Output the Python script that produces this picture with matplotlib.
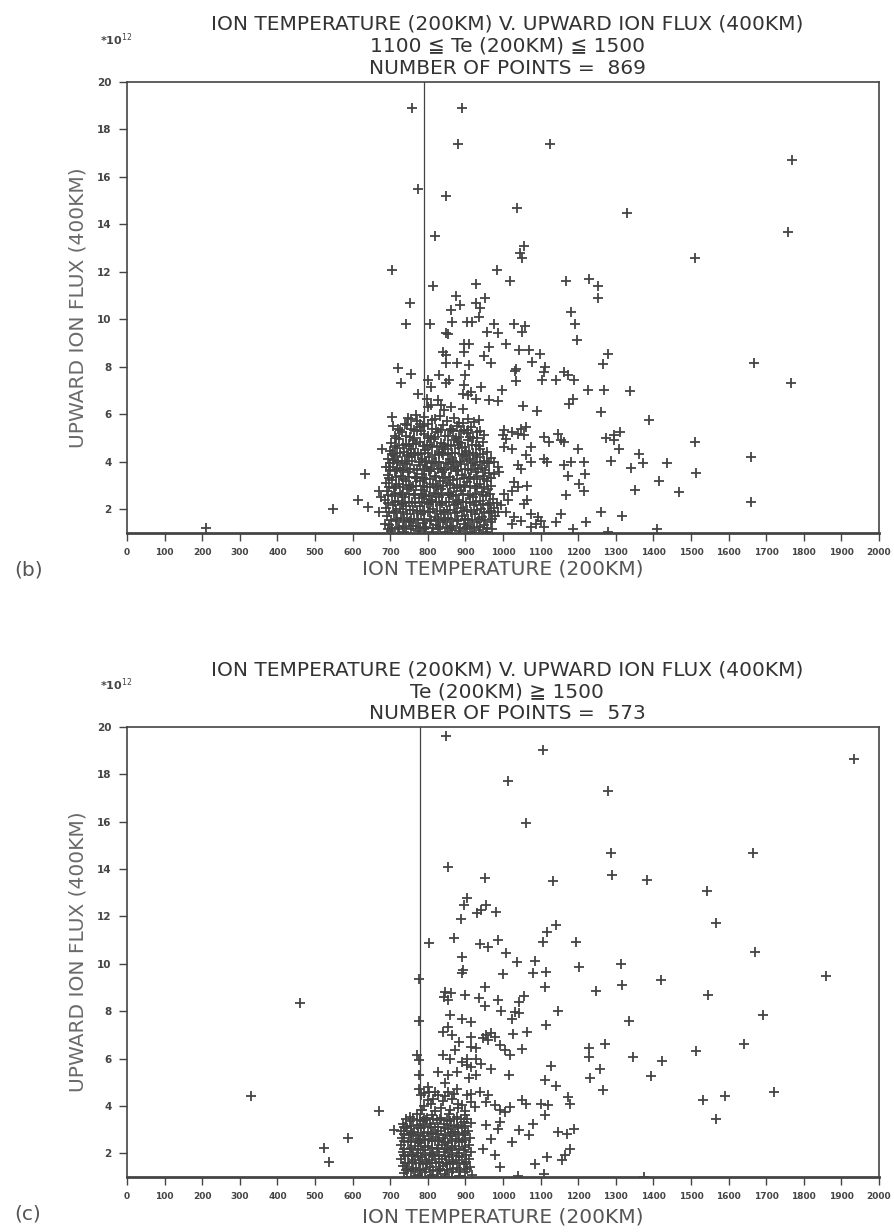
import numpy as np
import matplotlib
matplotlib.use("Agg")
import matplotlib.pyplot as plt

# ---- panel (b): 1100 <= Te <= 1500, scattered points ----
b_upper = [
    (758, 18.9), (890, 18.9), (880, 17.4), (1126, 17.4), (774, 15.5), (848, 15.2),
    (1768, 16.7), (1038, 14.7), (1330, 14.5), (818, 13.5), (1758, 13.7), (1056, 13.1),
    (1045, 12.8), (1051, 12.6), (705, 12.1), (985, 12.1), (1511, 12.6),
    (814, 11.4), (927, 11.5), (1019, 11.6), (1168, 11.6), (1228, 11.7), (1252, 11.4),
    (1252, 10.9), (752, 10.7), (874, 11.0), (886, 10.6), (953, 10.9), (927, 10.7),
    (938, 10.5), (863, 10.4), (1182, 10.3), (1191, 9.8), (741, 9.8), (805, 9.8),
    (865, 9.9), (903, 9.9), (917, 9.9), (936, 10.1), (976, 9.8), (1028, 9.8), (1059, 9.73),
]
b_mid = [
    (848, 9.43), (855, 9.38), (986, 9.41), (957, 9.48), (1050, 9.48), (1196, 9.13),
    (897, 8.98), (910, 8.96), (895, 8.63), (1008, 8.98), (962, 8.82), (840, 8.63),
    (848, 8.49), (1043, 8.7), (1070, 8.7), (1099, 8.53), (950, 8.45), (968, 8.17),
    (878, 8.17), (910, 8.07), (848, 8.17), (1077, 8.21), (1034, 7.93), (1032, 7.83),
    (1112, 8.0), (1109, 7.79), (1163, 7.79), (1172, 7.65), (1189, 7.44), (1103, 7.46),
    (1140, 7.44), (1034, 7.41), (722, 7.97), (755, 7.69), (729, 7.3), (800, 7.44),
    (809, 7.16), (831, 7.65), (857, 7.44), (848, 7.3), (899, 7.65), (897, 7.23),
    (915, 6.94), (893, 6.87), (906, 6.8), (941, 7.15), (997, 7.01), (928, 6.66),
    (963, 6.59), (986, 6.56), (1225, 7.01), (1185, 6.66), (1176, 6.45), (1052, 6.34),
    (1090, 6.14), (775, 6.84), (798, 6.63), (800, 6.31), (809, 6.38), (826, 6.59),
    (835, 6.38), (862, 6.31), (893, 6.24), (844, 6.17), (705, 5.89), (708, 5.49),
    (755, 5.82), (769, 5.96), (740, 5.61), (778, 5.61), (906, 5.82), (924, 5.68),
    (937, 5.75), (897, 5.32), (932, 5.25), (950, 5.11), (1003, 5.32), (1025, 5.25),
    (1048, 5.39), (1061, 5.47), (1039, 5.18), (1055, 5.11), (1008, 4.97), (1109, 5.04),
    (1123, 4.83), (1145, 5.18), (1154, 4.9), (1163, 4.83), (1200, 4.55), (1003, 4.62),
    (1025, 4.55), (999, 5.11), (1074, 4.62), (1061, 4.27), (1074, 3.99), (1039, 3.85),
    (1048, 3.7), (1109, 4.13), (1118, 3.99), (1163, 3.85), (1180, 3.99), (1173, 3.42),
    (1216, 3.99), (1217, 3.5), (1202, 3.07), (1216, 2.79), (1167, 2.58), (977, 3.99),
    (986, 3.78), (977, 3.5), (990, 3.57), (1030, 3.14), (1039, 2.93), (1065, 3.0),
    (1025, 2.79), (1065, 2.37), (1056, 2.23), (1003, 2.65), (1012, 2.37), (995, 2.16),
    (1008, 1.88), (1030, 1.66), (1048, 1.52), (1025, 1.38), (1074, 1.81), (1092, 1.66),
    (1101, 1.52), (1087, 1.38), (1109, 1.24), (1074, 1.24), (1154, 1.81), (1140, 1.45),
    (1187, 1.17), (1220, 1.45), (678, 4.55), (707, 4.34), (711, 4.06), (698, 3.78),
    (634, 3.47), (614, 2.37), (640, 2.09), (547, 2.02), (671, 2.79), (676, 2.51),
    (671, 1.88), (685, 1.38), (693, 1.17), (210, 1.2),
]
b_right = [
    (1279, 8.53), (1266, 8.1), (1668, 8.15), (1765, 7.3), (1268, 7.03), (1339, 6.98),
    (1261, 6.11), (1387, 5.76), (1274, 5.01), (1296, 4.92), (1310, 5.27), (1296, 5.13),
    (1308, 4.52), (1511, 4.82), (1286, 4.03), (1361, 4.31), (1372, 3.93), (1341, 3.75),
    (1436, 3.93), (1659, 4.19), (1513, 3.51), (1414, 3.2), (1351, 2.81), (1467, 2.71),
    (1659, 2.29), (1261, 1.87), (1317, 1.71), (1410, 1.15), (1279, 1.05),
]
# dense core of panel (b), typed row by row from the dark blob
b_core = [
    (748, 5.85), (772, 5.7), (790, 5.9), (812, 5.75), (833, 5.95), (851, 5.7), (869, 5.85), (884, 5.65),
    (722, 5.4), (744, 5.55), (763, 5.35), (786, 5.5), (801, 5.6), (822, 5.4), (840, 5.55), (858, 5.35),
    (877, 5.5), (893, 5.62), (915, 5.45),
    (712, 5.1), (731, 5.25), (752, 5.05), (770, 5.3), (791, 5.15), (808, 5.0), (826, 5.25), (845, 5.1),
    (866, 5.3), (884, 5.05), (903, 5.2), (921, 5.0), (940, 5.28),
    (703, 4.8), (724, 4.95), (741, 4.75), (760, 4.9), (779, 4.85), (797, 4.7), (816, 4.95), (834, 4.8),
    (853, 4.7), (871, 4.92), (889, 4.78), (908, 4.9), (927, 4.72), (948, 4.85),
    (700, 4.45), (718, 4.6), (737, 4.4), (755, 4.55), (774, 4.35), (792, 4.5), (811, 4.62), (829, 4.4),
    (846, 4.55), (864, 4.38), (883, 4.6), (901, 4.45), (920, 4.35), (938, 4.55), (957, 4.42),
    (695, 4.1), (713, 4.25), (731, 4.05), (749, 4.2), (767, 4.3), (785, 4.1), (803, 4.22), (821, 4.0),
    (840, 4.28), (858, 4.12), (876, 4.0), (894, 4.25), (912, 4.1), (931, 4.2), (950, 4.05), (968, 4.18),
    (690, 3.8), (708, 3.95), (726, 3.75), (744, 3.9), (762, 3.7), (780, 3.88), (798, 3.8), (817, 3.95),
    (835, 3.72), (853, 3.9), (871, 3.78), (889, 3.92), (907, 3.7), (925, 3.85), (944, 3.75), (962, 3.93),
    (694, 3.45), (712, 3.6), (730, 3.4), (748, 3.55), (766, 3.35), (784, 3.5), (802, 3.62), (820, 3.42),
    (838, 3.55), (856, 3.38), (874, 3.6), (892, 3.45), (910, 3.35), (928, 3.58), (946, 3.4), (964, 3.52),
    (688, 3.1), (706, 3.25), (724, 3.05), (742, 3.2), (760, 3.0), (778, 3.18), (796, 3.28), (814, 3.05),
    (832, 3.2), (850, 3.1), (868, 3.25), (886, 3.02), (904, 3.15), (922, 3.28), (940, 3.05), (958, 3.2),
    (691, 2.75), (709, 2.9), (727, 2.7), (745, 2.85), (763, 2.65), (781, 2.8), (799, 2.92), (817, 2.7),
    (835, 2.85), (853, 2.68), (871, 2.9), (889, 2.75), (907, 2.62), (925, 2.88), (943, 2.72), (961, 2.85),
    (686, 2.4), (704, 2.55), (722, 2.35), (740, 2.5), (758, 2.3), (776, 2.48), (794, 2.6), (812, 2.38),
    (830, 2.52), (848, 2.32), (866, 2.55), (884, 2.4), (902, 2.3), (920, 2.5), (938, 2.36), (956, 2.55),
    (974, 2.42),
    (689, 2.05), (707, 2.2), (725, 2.0), (743, 2.15), (761, 1.95), (779, 2.12), (797, 2.25), (815, 2.02),
    (833, 2.18), (851, 1.98), (869, 2.2), (887, 2.06), (905, 1.96), (923, 2.16), (941, 2.0), (959, 2.2),
    (977, 2.05),
    (692, 1.7), (710, 1.85), (728, 1.65), (746, 1.8), (764, 1.6), (782, 1.78), (800, 1.9), (818, 1.68),
    (836, 1.82), (854, 1.62), (872, 1.85), (890, 1.72), (908, 1.6), (926, 1.8), (944, 1.66), (962, 1.84),
    (980, 1.7),
    (697, 1.35), (715, 1.5), (733, 1.3), (751, 1.45), (769, 1.28), (787, 1.42), (805, 1.52), (823, 1.32),
    (841, 1.46), (859, 1.3), (877, 1.5), (895, 1.38), (913, 1.28), (931, 1.45), (949, 1.32), (967, 1.48),
    (703, 1.1), (720, 1.18), (738, 1.05), (756, 1.15), (774, 1.08), (792, 1.2), (810, 1.06), (828, 1.16),
    (846, 1.04), (864, 1.14), (882, 1.08), (900, 1.18), (918, 1.05), (936, 1.12), (954, 1.06), (972, 1.15),
    (735, 3.65), (771, 3.3), (808, 3.7), (845, 3.35), (880, 3.65), (755, 2.95), (790, 2.55), (826, 2.95),
    (862, 2.58), (898, 2.92), (735, 2.25), (772, 1.85), (808, 2.3), (843, 1.9), (880, 2.3), (752, 1.5),
    (790, 1.15), (826, 1.55), (862, 1.2), (898, 1.55), (718, 4.0), (756, 4.35), (793, 3.98), (830, 4.32),
    (866, 3.98), (900, 4.3), (760, 4.75), (800, 5.0), (840, 4.62), (880, 4.85), (780, 5.45), (820, 5.8),
]
# second pass over the darkest part of (b), between the rows above
b_core2 = [
    (727, 5.32), (755, 5.38), (781, 5.3), (811, 5.4), (835, 5.33), (862, 5.37), (889, 5.3), (908, 5.36),
    (716, 5.0), (741, 5.08), (763, 5.02), (800, 5.1), (818, 5.03), (855, 5.07), (875, 5.0), (912, 5.06),
    (930, 5.02),
    (712, 4.66), (733, 4.72), (751, 4.68), (769, 4.74), (788, 4.67), (806, 4.7), (825, 4.65), (843, 4.73),
    (862, 4.67), (880, 4.71), (898, 4.64), (917, 4.7), (936, 4.66),
    (704, 4.32), (727, 4.36), (746, 4.3), (764, 4.38), (783, 4.33), (801, 4.37), (820, 4.3), (838, 4.35),
    (855, 4.31), (873, 4.37), (892, 4.33), (910, 4.36), (929, 4.3), (947, 4.34),
    (699, 3.97), (722, 4.02), (740, 3.96), (758, 4.03), (776, 3.98), (794, 4.04), (812, 3.97), (830, 4.01),
    (849, 3.96), (867, 4.03), (885, 3.98), (903, 4.02), (921, 3.96), (940, 4.01), (958, 3.97),
    (699, 3.65), (717, 3.7), (735, 3.64), (753, 3.71), (771, 3.66), (789, 3.69), (807, 3.63), (826, 3.7),
    (844, 3.65), (862, 3.71), (880, 3.64), (898, 3.69), (916, 3.66), (934, 3.7), (953, 3.64),
    (697, 3.3), (715, 3.34), (733, 3.28), (751, 3.35), (769, 3.31), (787, 3.33), (805, 3.27), (823, 3.34),
    (841, 3.3), (859, 3.35), (877, 3.29), (895, 3.33), (913, 3.3), (931, 3.36), (949, 3.28), (967, 3.33),
    (697, 2.95), (715, 3.0), (733, 2.94), (751, 3.01), (769, 2.96), (787, 2.99), (805, 2.93), (823, 3.0),
    (841, 2.96), (859, 3.01), (877, 2.94), (895, 2.99), (913, 2.96), (931, 3.0), (949, 2.93), (967, 2.98),
    (695, 2.6), (713, 2.64), (731, 2.58), (749, 2.65), (767, 2.61), (785, 2.63), (803, 2.57), (821, 2.64),
    (839, 2.6), (857, 2.65), (875, 2.59), (893, 2.63), (911, 2.6), (929, 2.66), (947, 2.58), (965, 2.63),
    (695, 2.25), (713, 2.3), (731, 2.24), (749, 2.31), (767, 2.26), (785, 2.29), (803, 2.23), (821, 2.3),
    (839, 2.26), (857, 2.31), (875, 2.24), (893, 2.29), (911, 2.26), (929, 2.3), (947, 2.23), (965, 2.28),
    (983, 2.25),
    (698, 1.9), (716, 1.94), (734, 1.88), (752, 1.95), (770, 1.91), (788, 1.93), (806, 1.87), (824, 1.94),
    (842, 1.9), (860, 1.95), (878, 1.89), (896, 1.93), (914, 1.9), (932, 1.96), (950, 1.88), (968, 1.93),
    (986, 1.9),
    (701, 1.55), (719, 1.6), (737, 1.54), (755, 1.61), (773, 1.56), (791, 1.59), (809, 1.53), (827, 1.6),
    (845, 1.56), (863, 1.61), (881, 1.54), (899, 1.59), (917, 1.56), (935, 1.6), (953, 1.53), (971, 1.58),
    (706, 1.22), (724, 1.27), (742, 1.21), (760, 1.28), (778, 1.23), (796, 1.26), (814, 1.2), (832, 1.27),
    (850, 1.23), (868, 1.28), (886, 1.21), (904, 1.26), (922, 1.23), (940, 1.27), (958, 1.2),
]

# ---- panel (c): Te >= 1500 ----
c_outer = [
    (849, 19.6), (1107, 19.05), (1933, 18.65), (1012, 17.7), (1279, 17.3), (1061, 15.95),
    (1288, 14.7), (1666, 14.7), (1291, 13.76), (854, 14.08), (953, 13.63), (1134, 13.5),
    (1383, 13.52), (1543, 13.08), (1566, 11.74), (1669, 10.5), (1860, 9.5), (1546, 8.68),
    (1692, 7.86), (1641, 6.6), (1513, 6.3), (1721, 4.61), (1591, 4.42), (1533, 4.24),
    (1566, 3.45), (460, 8.33), (330, 4.42), (671, 3.79), (589, 2.66), (523, 2.22),
    (536, 1.63), (1376, 1.0),
]
c_mid = [
    (903, 12.77), (897, 12.49), (954, 12.49), (942, 12.28), (931, 12.14), (982, 12.21),
    (888, 11.9), (1142, 11.64), (1117, 11.36), (802, 10.87), (869, 11.11), (938, 10.83),
    (961, 10.73), (986, 11.01), (1107, 10.94), (1193, 10.91), (1009, 10.47), (891, 10.28),
    (1038, 10.09), (1084, 10.13), (893, 9.74), (891, 9.6), (1001, 9.56), (1079, 9.6),
    (1114, 9.64), (1203, 9.88), (1315, 9.99), (1317, 9.1), (1421, 9.32), (1113, 9.01),
    (1248, 8.85), (952, 9.01), (846, 8.82), (842, 8.6), (853, 8.47), (862, 8.75),
    (900, 8.68), (776, 9.36), (935, 8.54), (986, 8.47), (1056, 8.65), (1043, 8.37),
    (952, 8.2), (994, 8.0), (1031, 7.97), (1043, 7.91), (1024, 7.69), (1146, 8.02),
    (859, 7.83), (891, 7.69), (916, 7.55), (776, 7.58), (1115, 7.41), (1336, 7.59),
    (853, 7.34), (840, 7.13), (865, 6.99), (954, 6.99), (948, 6.85), (967, 7.06),
    (961, 6.78), (980, 6.92), (914, 6.92), (1026, 7.02), (1064, 7.13), (884, 6.71),
    (872, 6.35), (916, 6.5), (929, 6.43), (993, 6.57), (1005, 6.35), (1018, 6.14),
    (1051, 6.4), (1230, 6.45), (1230, 6.07), (1271, 6.6), (1346, 6.06), (1422, 5.89),
    (772, 6.14), (776, 5.93), (840, 6.14), (859, 6.0), (891, 5.86), (903, 5.72),
    (916, 5.65), (942, 5.79), (967, 5.58), (929, 6.0), (903, 6.0), (827, 5.44),
    (853, 5.3), (878, 5.44), (910, 5.16), (929, 5.3), (1015, 5.32), (1127, 5.68),
    (1113, 5.08), (1142, 4.83), (1257, 5.54), (1231, 5.18), (1265, 4.69), (1394, 5.28),
    (776, 5.3), (776, 4.73), (783, 4.45), (802, 4.59), (814, 4.31), (827, 4.45),
    (808, 4.1), (853, 4.59), (865, 4.31), (891, 4.03), (903, 4.45), (916, 4.17),
    (878, 4.73), (961, 4.45), (954, 4.17), (980, 4.03), (1005, 3.74), (1018, 3.95),
    (993, 3.81), (1050, 4.24), (1062, 4.1), (1101, 4.1), (1120, 4.03), (1174, 4.38),
    (1177, 4.1), (1113, 3.6), (1079, 3.25), (1069, 2.76), (1043, 2.97), (1024, 2.47),
    (1145, 2.9), (1170, 2.83), (1190, 3.04), (1177, 2.19), (1164, 1.91), (1158, 1.7),
    (1117, 1.84), (1085, 1.56), (1041, 1.06), (1109, 1.13), (993, 1.42), (993, 3.32),
    (986, 3.04), (954, 3.18), (967, 2.62), (948, 2.19), (980, 1.91), (710, 2.97),
    (736, 1.91), (745, 1.35), (790, 4.0), (835, 3.9), (870, 4.5), (925, 3.95),
    (940, 4.6), (800, 4.8), (845, 4.95), (820, 3.8), (785, 3.85), (800, 4.25),
    (820, 4.6), (840, 4.2), (860, 3.85), (880, 4.1), (900, 3.8), (915, 4.5),
    (790, 4.55), (845, 4.4), (880, 3.9),
]
c_core = [
    (752, 3.55), (770, 3.68), (790, 3.5), (812, 3.62), (834, 3.48), (856, 3.65), (878, 3.52), (900, 3.6),
    (735, 3.25), (752, 3.38), (770, 3.2), (788, 3.35), (806, 3.22), (824, 3.4), (842, 3.25), (860, 3.36),
    (878, 3.2), (896, 3.32), (914, 3.26),
    (728, 2.95), (746, 3.08), (764, 2.9), (782, 3.05), (800, 2.92), (818, 3.1), (836, 2.95), (854, 3.02),
    (872, 2.88), (890, 3.06), (908, 2.94),
    (732, 2.65), (750, 2.78), (768, 2.6), (786, 2.75), (804, 2.62), (822, 2.8), (840, 2.66), (858, 2.74),
    (876, 2.6), (894, 2.76), (912, 2.64),
    (729, 2.35), (747, 2.48), (765, 2.3), (783, 2.45), (801, 2.32), (819, 2.5), (837, 2.36), (855, 2.44),
    (873, 2.3), (891, 2.46), (909, 2.34),
    (734, 2.05), (752, 2.18), (770, 2.0), (788, 2.15), (806, 2.02), (824, 2.2), (842, 2.06), (860, 2.14),
    (878, 2.0), (896, 2.16), (914, 2.04),
    (730, 1.75), (748, 1.88), (766, 1.7), (784, 1.85), (802, 1.72), (820, 1.9), (838, 1.76), (856, 1.84),
    (874, 1.7), (892, 1.86), (910, 1.74),
    (733, 1.45), (751, 1.58), (769, 1.4), (787, 1.55), (805, 1.42), (823, 1.6), (841, 1.46), (859, 1.54),
    (877, 1.4), (895, 1.56), (913, 1.44),
    (738, 1.15), (756, 1.26), (774, 1.1), (792, 1.22), (810, 1.08), (828, 1.25), (846, 1.12), (864, 1.2),
    (882, 1.06), (900, 1.22), (918, 1.1),
    (745, 1.02), (765, 1.05), (785, 1.0), (805, 1.04), (825, 1.01), (845, 1.05), (865, 1.0), (885, 1.03),
    (742, 3.1), (778, 2.5), (815, 2.85), (850, 2.2), (760, 1.95), (797, 1.6), (833, 1.3), (868, 1.65),
    (760, 2.85), (796, 3.4), (830, 2.55), (866, 2.9), (745, 1.35), (780, 1.3), (815, 1.95), (850, 1.55),
]
c_core2 = [
    (743, 3.43), (761, 3.47), (779, 3.42), (797, 3.48), (815, 3.44), (833, 3.46), (851, 3.41), (869, 3.47),
    (887, 3.43), (905, 3.46),
    (737, 3.1), (755, 3.14), (773, 3.09), (791, 3.15), (809, 3.11), (827, 3.13), (845, 3.08), (863, 3.14),
    (881, 3.1), (899, 3.15),
    (737, 2.8), (755, 2.84), (773, 2.79), (791, 2.85), (809, 2.81), (827, 2.83), (845, 2.78), (863, 2.84),
    (881, 2.8), (899, 2.85),
    (738, 2.5), (756, 2.54), (774, 2.49), (792, 2.55), (810, 2.51), (828, 2.53), (846, 2.48), (864, 2.54),
    (882, 2.5), (900, 2.55),
    (738, 2.2), (756, 2.24), (774, 2.19), (792, 2.25), (810, 2.21), (828, 2.23), (846, 2.18), (864, 2.24),
    (882, 2.2), (900, 2.25),
    (739, 1.9), (757, 1.94), (775, 1.89), (793, 1.95), (811, 1.91), (829, 1.93), (847, 1.88), (865, 1.94),
    (883, 1.9), (901, 1.95),
    (740, 1.6), (758, 1.64), (776, 1.59), (794, 1.65), (812, 1.61), (830, 1.63), (848, 1.58), (866, 1.64),
    (884, 1.6), (902, 1.65),
    (742, 1.3), (760, 1.34), (778, 1.29), (796, 1.35), (814, 1.31), (832, 1.33), (850, 1.28), (868, 1.34),
    (886, 1.3), (904, 1.35),
]

b_line = 790
c_line = 780

b_title = ["ION TEMPERATURE (200KM) V. UPWARD ION FLUX (400KM)",
           "1100 \u2266 Te (200KM) \u2266 1500",
           "NUMBER OF POINTS =  869"]
c_title = ["ION TEMPERATURE (200KM) V. UPWARD ION FLUX (400KM)",
           "Te (200KM) \u2267 1500",
           "NUMBER OF POINTS =  573"]

xticks = np.arange(0, 2001, 100)
yticks = np.arange(2, 21, 2)

ink = "#444444"
W, H = 894, 1232

fig = plt.figure(figsize=(W / 100, H / 100), dpi=100)
plt.rcParams['font.family'] = ['DejaVu Sans']


def fy(py):
    return 1 - py / H


def draw_panel(top, bottom, groups, vline, title, tag, xlab_y):
    ax = fig.add_axes([127 / W, fy(bottom), 752 / W, (bottom - top) / H])
    for g in groups:
        pts = np.array(g, dtype=float)
        ax.plot(pts[:, 0], pts[:, 1], linestyle='none', marker='+',
                markersize=6.5, markeredgewidth=1.3, color=ink)
    ax.axvline(vline, color=ink, linewidth=0.9)
    ax.set_xlim(0, 2000)
    ax.set_ylim(1, 20)
    ax.set_xticks(xticks)
    ax.set_yticks(yticks)
    ax.tick_params(direction='out', length=6, width=1.0, colors=ink, pad=5)
    for lab in ax.get_xticklabels():
        lab.set_fontsize(6.5)
        lab.set_fontweight('bold')
    for lab in ax.get_yticklabels():
        lab.set_fontsize(7.5)
        lab.set_fontweight('bold')
    for side in ['left', 'top', 'right']:
        ax.spines[side].set_linewidth(1.2)
        ax.spines[side].set_color(ink)
    ax.spines['bottom'].set_linewidth(2.0)
    ax.spines['bottom'].set_color(ink)

    ax.set_ylabel("UPWARD ION FLUX (400KM)", fontsize=14.5, color="#6a6a6a")
    ax.yaxis.set_label_coords((87 - 127) / 752, 0.5)
    ax.set_xlabel("ION TEMPERATURE (200KM)", fontsize=14.5, color="#555555")
    ax.xaxis.set_label_coords(0.5, xlab_y)

    for i, line in enumerate(title):
        fig.text(507 / W, fy(top - 52 + 22 * i), line, ha='center', va='baseline',
                 fontsize=14.5, color="#333333")
    fig.text(100 / W, fy(top - 37), "*10$^{12}$", ha='left', va='baseline',
             fontsize=8, fontweight='bold', color=ink)
    fig.text(14 / W, fy(bottom + 42), tag, ha='left', va='baseline',
             fontsize=14.5, color="#555555")
    return ax


ax_b = draw_panel(82, 533, [b_upper, b_mid, b_right, b_core, b_core2], b_line, b_title, "(b)", -0.058)
ax_c = draw_panel(727, 1177, [c_outer, c_mid, c_core, c_core2], c_line, c_title, "(c)", -0.068)

fig.savefig("out.png", dpi=100)
